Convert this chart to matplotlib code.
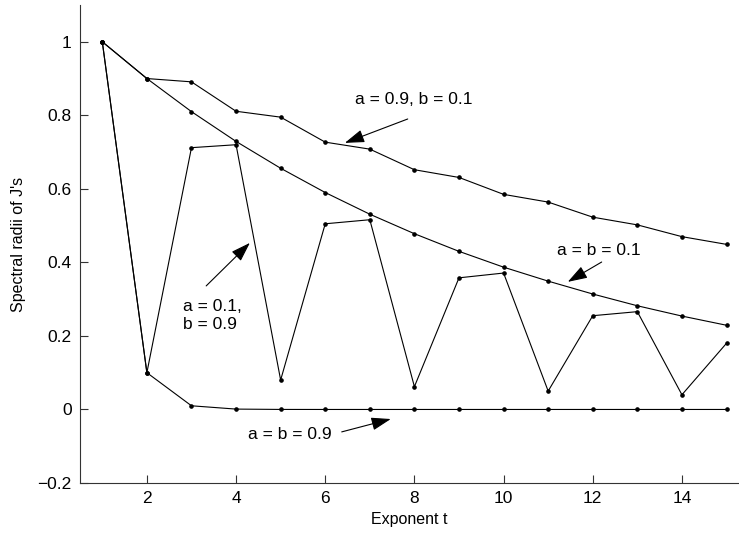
import matplotlib
matplotlib.use("Agg")
import matplotlib.pyplot as plt

t = list(range(1, 16))
s_a09_b01 = [1.0, 0.9, 0.891, 0.811, 0.795, 0.727, 0.708, 0.652, 0.631, 0.585, 0.564, 0.523, 0.502, 0.470, 0.449]
s_a01_b01 = [1.0, 0.9, 0.81, 0.729, 0.656, 0.590, 0.531, 0.478, 0.430, 0.387, 0.349, 0.314, 0.282, 0.254, 0.229]
s_a01_b09 = [1.0, 0.1, 0.712, 0.720, 0.080, 0.505, 0.516, 0.062, 0.358, 0.371, 0.050, 0.255, 0.266, 0.040, 0.180]
s_a09_b09 = [1.0, 0.1, 0.01, 0.001, 0.0001, 0.0, 0.0, 0.0, 0.0, 0.0, 0.0, 0.0, 0.0, 0.0, 0.0]

plt.rcParams['font.family'] = ['Liberation Sans', 'DejaVu Sans']
FS = 12.5

fig = plt.figure(figsize=(7.39, 5.38), dpi=100)
ax = fig.add_axes([80/739, 1 - 483/538, 1 - 80/739, (483 - 5)/538])

for s in [s_a09_b01, s_a01_b01, s_a01_b09, s_a09_b09]:
    ax.plot(t, s, color='black', lw=0.8, marker='o', markersize=2.3)

ax.set_xlim(0.5, 15.28)
ax.set_ylim(-0.2, 1.1)
ax.set_xticks([2, 4, 6, 8, 10, 12, 14])
ax.set_yticks([-0.2, 0, 0.2, 0.4, 0.6, 0.8, 1])
ax.set_yticklabels(['\u22120.2', '0', '0.2', '0.4', '0.6', '0.8', '1'])
for sp in ['top', 'right']:
    ax.spines[sp].set_visible(False)
for sp in ['left', 'bottom']:
    ax.spines[sp].set_linewidth(0.8)
    ax.spines[sp].set_color('#333333')
ax.tick_params(direction='in', length=6, width=0.8, labelsize=FS, color='#333333', pad=6)

ax.set_xlabel('Exponent t', fontsize=FS - 1, labelpad=4)
ax.set_ylabel("Spectral radii of J's", fontsize=FS - 1, labelpad=8)

arrow = dict(arrowstyle='-|>,head_length=0.6,head_width=0.2', color='black', lw=0.8,
             mutation_scale=20, shrinkA=0, shrinkB=0)

ax.text(7.98, 0.844, 'a = 0.9, b = 0.1', ha='center', va='center', fontsize=FS)
ax.annotate('', xy=(6.44, 0.725), xytext=(7.85, 0.79), arrowprops=arrow)

ax.text(2.81, 0.256, 'a = 0.1,\nb = 0.9', ha='left', va='center', fontsize=FS, linespacing=1.25)
ax.annotate('', xy=(4.31, 0.453), xytext=(3.33, 0.336), arrowprops=arrow)

ax.text(12.14, 0.431, 'a = b = 0.1', ha='center', va='center', fontsize=FS)
ax.annotate('', xy=(11.44, 0.347), xytext=(12.2, 0.401), arrowprops=arrow)

ax.text(5.21, -0.067, 'a = b = 0.9', ha='center', va='center', fontsize=FS)
ax.annotate('', xy=(7.47, -0.026), xytext=(6.37, -0.061), arrowprops=arrow)

fig.savefig('out.png', dpi=100)
